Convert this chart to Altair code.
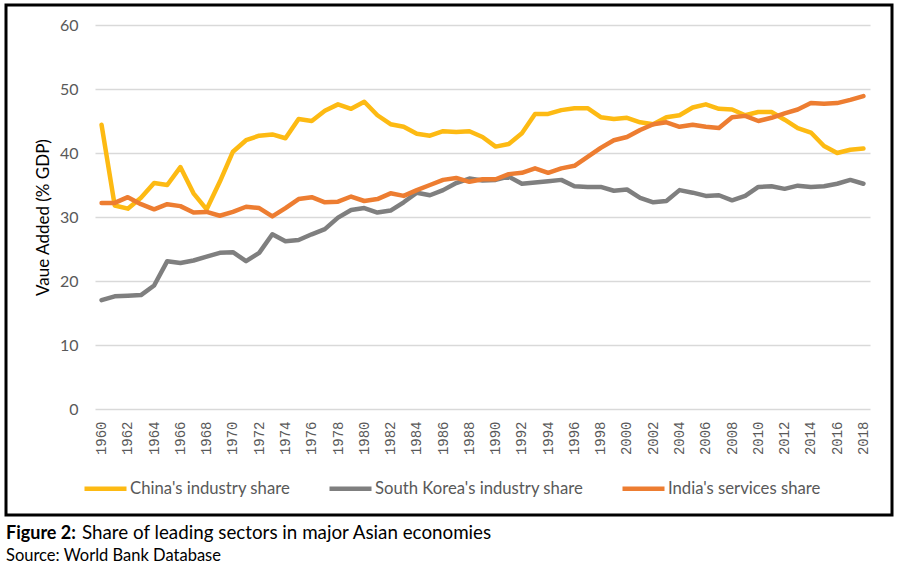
import altair as alt
import pandas as pd

years = list(range(1960, 2019))

china = [44.4, 31.8, 31.3, 33.0, 35.3, 35.0, 37.8, 33.7, 31.2, 35.5,
         40.2, 42.0, 42.7, 42.9, 42.3, 45.3, 45.0, 46.6, 47.6, 46.9,
         48.0, 45.9, 44.5, 44.1, 43.0, 42.7, 43.4, 43.3, 43.4, 42.5,
         41.0, 41.4, 43.1, 46.1, 46.1, 46.7, 47.0, 47.0, 45.6, 45.3,
         45.5, 44.8, 44.5, 45.6, 45.9, 47.1, 47.6, 46.9, 46.8, 45.9,
         46.4, 46.4, 45.2, 43.9, 43.2, 41.1, 40.0, 40.5, 40.7]

korea = [17.0, 17.6, 17.7, 17.8, 19.3, 23.1, 22.8, 23.2, 23.8, 24.4,
         24.5, 23.1, 24.4, 27.3, 26.2, 26.4, 27.3, 28.1, 29.9, 31.1,
         31.4, 30.7, 31.0, 32.3, 33.8, 33.4, 34.2, 35.3, 36.0, 35.7,
         35.8, 36.3, 35.2, 35.4, 35.6, 35.8, 34.8, 34.7, 34.7, 34.1,
         34.3, 33.0, 32.3, 32.5, 34.2, 33.8, 33.3, 33.4, 32.6, 33.3,
         34.7, 34.8, 34.4, 34.9, 34.7, 34.8, 35.2, 35.8, 35.2]

india = [32.2, 32.2, 33.1, 32.0, 31.2, 32.0, 31.7, 30.7, 30.8, 30.2,
         30.8, 31.6, 31.4, 30.1, 31.4, 32.8, 33.1, 32.3, 32.4, 33.2,
         32.5, 32.8, 33.7, 33.3, 34.2, 35.0, 35.8, 36.1, 35.5, 35.9,
         35.9, 36.7, 36.9, 37.6, 36.9, 37.6, 38.0, 39.4, 40.8, 42.0,
         42.5, 43.6, 44.5, 44.8, 44.1, 44.4, 44.1, 43.9, 45.6, 45.8,
         45.0, 45.5, 46.2, 46.8, 47.8, 47.7, 47.8, 48.3, 48.9]

series_names = ["China's industry share", "South Korea's industry share", "India's services share"]
series_colors = ["#FDBA13", "#7F7F7F", "#ED7D31"]
x_tick_years = list(range(1960, 2019, 2))
y_ticks = [0, 10, 20, 30, 40, 50, 60]

caption_bold = "Figure 2:"
caption_text = "Share of leading sectors in major Asian economies"
source_text = "Source: World Bank Database"

rows = []
for name, vals in zip(series_names, [china, korea, india]):
    for y, v in zip(years, vals):
        rows.append({"year": y, "series": name, "value": v})
df = pd.DataFrame(rows)

W, H = 775, 384

lines = alt.Chart(df).mark_line(strokeWidth=4.5, strokeJoin="round", strokeCap="round").encode(
    x=alt.X("year:Q",
            scale=alt.Scale(domain=[1959.5, 2018.5], nice=False, zero=False),
            axis=alt.Axis(values=x_tick_years, format="d", labelAngle=270, grid=False,
                          ticks=False, domain=False, labelFont="Liberation Mono",
                          labelFontSize=14, labelColor="#595959", labelPadding=12,
                          title=None)),
    y=alt.Y("value:Q",
            scale=alt.Scale(domain=[0, 60], nice=False),
            axis=alt.Axis(values=y_ticks, grid=True, gridColor="#D9D9D9", gridWidth=1.5,
                          ticks=False, domain=False, labelFont="Lato", labelFontSize=16,
                          labelColor="#595959", labelPadding=17,
                          title="Vaue Added (% GDP)", titleFont="Lato", titleFontSize=17,
                          titleFontWeight="normal", titleColor="#000000",
                          titleX=-52, titleY=H / 2, titleAngle=270,
                          titleAlign="center", titleBaseline="middle")),
    color=alt.Color("series:N",
                    scale=alt.Scale(domain=series_names, range=series_colors),
                    sort=series_names,
                    legend=alt.Legend(orient="none", legendX=-13, legendY=440,
                                      direction="horizontal", title=None,
                                      symbolType="stroke", symbolSize=1764,
                                      symbolStrokeWidth=4.5, labelOffset=1,
                                      labelFont="Lato", labelFontSize=16.7,
                                      labelColor="#595959", columnPadding=29,
                                      labelLimit=400)),
)

frame = alt.Chart(pd.DataFrame({"k": [0]})).mark_rect(
    fill=None, stroke="#000000", strokeWidth=3
).encode(x=alt.value(-89), x2=alt.value(797), y=alt.value(-20), y2=alt.value(490))

cap1 = alt.Chart(pd.DataFrame({"t": [caption_bold]})).mark_text(
    align="left", baseline="alphabetic", font="Lato", fontSize=18, fontWeight="bold", color="#000000"
).encode(text="t:N", x=alt.value(-89), y=alt.value(514))

cap2 = alt.Chart(pd.DataFrame({"t": [caption_text]})).mark_text(
    align="left", baseline="alphabetic", font="Lato", fontSize=18.8, color="#000000"
).encode(text="t:N", x=alt.value(-13), y=alt.value(514))

cap3 = alt.Chart(pd.DataFrame({"t": [source_text]})).mark_text(
    align="left", baseline="alphabetic", font="Lato", fontSize=16.5, color="#000000"
).encode(text="t:N", x=alt.value(-89), y=alt.value(536))

chart = alt.layer(lines, frame, cap1, cap2, cap3).properties(
    width=W, height=H,
    autosize=alt.AutoSizeParams(type="none"),
    padding={"left": 95, "top": 25, "right": 35, "bottom": 158},
    background="#FFFFFF",
).configure_view(stroke=None)

chart.save("out.html", embed_options={"renderer": "svg", "actions": False})
